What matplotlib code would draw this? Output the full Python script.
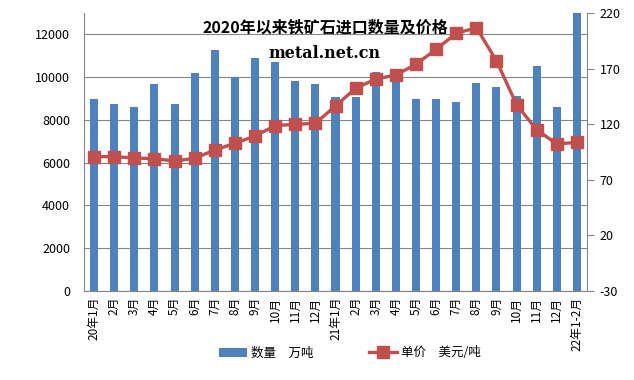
import matplotlib.pyplot as plt
import numpy as np

plt.rcParams['font.family'] = ['Noto Sans CJK SC', 'DejaVu Sans']
plt.rcParams['axes.unicode_minus'] = False

months = ['20年1月', '2月', '3月', '4月', '5月', '6月', '7月', '8月', '9月', '10月', '11月', '12月',
          '21年1月', '2月', '3月', '4月', '5月', '6月', '7月', '8月', '9月', '10月', '11月', '12月',
          '22年1-2月']
volume = [8980, 8730, 8590, 9700, 8730, 10190, 11250, 10020, 10880, 10700, 9800, 9660,
          9090, 9050, 10220, 9860, 8970, 8970, 8860, 9750, 9560, 9140, 10500, 8590,
          12990]
price = [90.8, 90.8, 89.6, 89.0, 86.9, 89.3, 96.8, 102.8, 109.4, 118.7, 119.9, 120.8,
         136.4, 152.3, 160.6, 164.2, 173.9, 187.4, 201.7, 206.8, 177.1, 137.5, 115.0, 102.2,
         103.7]

fig = plt.figure(figsize=(6.34, 3.8), dpi=100)
ax = fig.add_axes([84 / 634, 1 - 291 / 380, 503 / 634, 278 / 380])
x = np.arange(len(months))

ax.bar(x, volume, width=0.4, color='#4F81BD', label='数量　万吨', zorder=2)
ax.set_ylim(0, 13000)
ax.set_yticks(range(0, 13000, 2000))
ax.set_xlim(-0.5, len(months) - 0.5)
ax.yaxis.grid(True, color='#868686', linewidth=0.8, zorder=0)
ax.set_xticks(x)
ax.set_xticklabels(months, rotation=90, fontsize=8.5)
ax.tick_params(axis='y', labelsize=9, length=0, pad=10)
ax.tick_params(axis='x', length=0, pad=4)
for s in ['top', 'right']:
    ax.spines[s].set_visible(False)
ax.spines['left'].set_color('#868686')
ax.spines['bottom'].set_color('#868686')

ax2 = ax.twinx()
ax2.plot(x, price, color='#C0504D', linewidth=2.4, marker='s', markersize=8,
         label='单价　美元/吨', zorder=3)
ax2.set_ylim(-30, 220)
ax2.set_yticks(range(-30, 221, 50))
ax2.tick_params(axis='y', labelsize=9, length=5, color='#868686', pad=4)
for s in ['top', 'left', 'bottom']:
    ax2.spines[s].set_visible(False)
ax2.spines['right'].set_color('#868686')

fig.text(325 / 634, 1 - 27 / 380, '2020年以来铁矿石进口数量及价格', ha='center', va='center',
         fontsize=11.5, fontweight='heavy')
fig.text(325 / 634, 1 - 53 / 380, 'metal.net.cn', ha='center', va='center',
         fontsize=11.5, fontweight='bold', family='DejaVu Serif')

h1, l1 = ax.get_legend_handles_labels()
h2, l2 = ax2.get_legend_handles_labels()
fig.legend(h1 + h2, l1 + l2, loc='center', bbox_to_anchor=(350 / 634, 1 - 353 / 380),
           ncol=2, frameon=False, fontsize=9, columnspacing=4.5, handlelength=2.2,
           handletextpad=0.3)

fig.savefig('out.png', dpi=100)
